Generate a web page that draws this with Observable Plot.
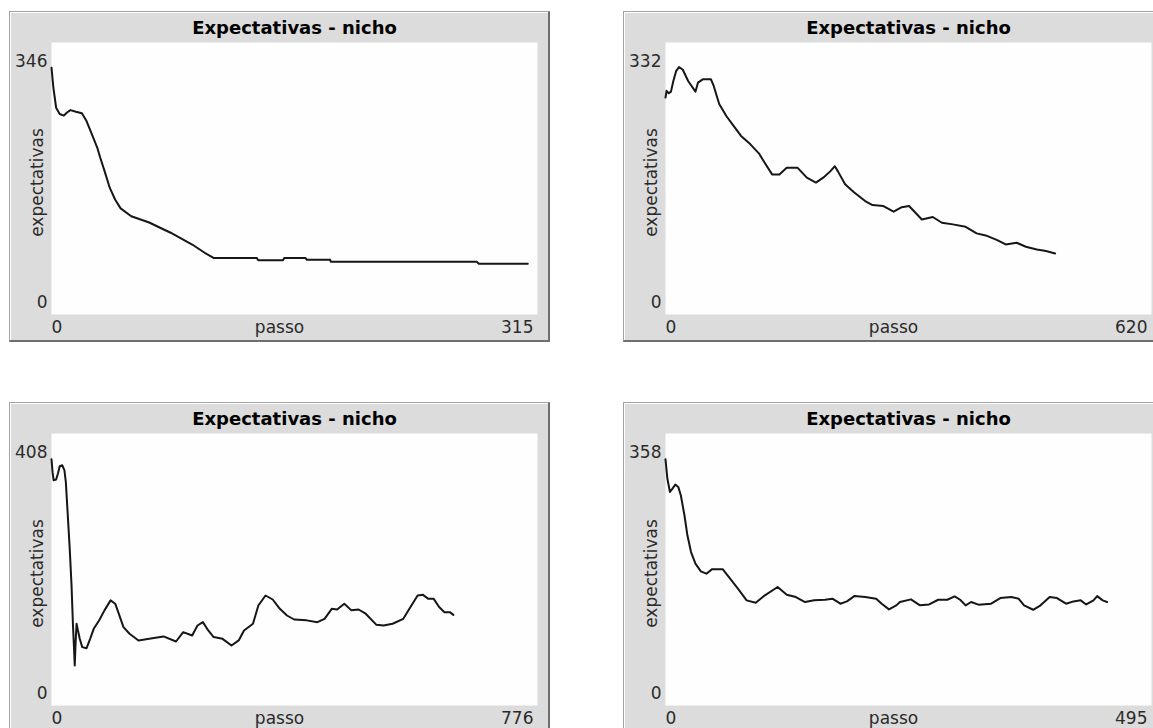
<!DOCTYPE html>
<html><head><meta charset="utf-8">
<script src="https://cdn.jsdelivr.net/npm/d3@7"></script>
<script src="https://cdn.jsdelivr.net/npm/@observablehq/plot@0.6"></script>
<style>
html,body{margin:0;padding:0;overflow:hidden;background:#fff;}
#root{position:relative;width:1153px;height:728px;overflow:hidden;background:#fff;}
.panel{position:absolute;width:541px;height:331px;background:#dcdcdc;}
.panel svg{position:absolute;left:0;top:0;}
.bord{position:absolute;left:0;top:0;width:541px;height:331px;box-sizing:border-box;border-top:1px solid #a3a3a3;border-left:1px solid #a3a3a3;border-right:2px solid #6f6f6f;border-bottom:2px solid #6f6f6f;box-shadow:inset 1px 1px 0 #ffffff;}
</style></head><body><div id="root"></div>
<script>
const titles = ["Expectativas - nicho","Expectativas - nicho","Expectativas - nicho","Expectativas - nicho"];
const xLabel = "passo";
const yLabel = "expectativas";
const xMax = [315, 620, 776, 495];
const yMax = [346, 332, 408, 358];

const passo1 = [0,1.2,3,5.3,8,10,12.3,15.8,19.7,22.7,26.2,29.7,31.5,34.3,37.8,41.3,44.8,51.7,63.3,77.2,91.2,99.3,105,133,134,150,151,164.5,165.6,180.6,181,275.6,277,308.7];
const expect1 = [314,289,263,255,253,257,260,258,256,246,229,212,200,183,161,146,135,125,117,104,89,78.5,72,72,69,69,72,72,69.6,69.6,67,67,64.5,64.5];

const passo2 = [0,1.4,4.2,7,10,13.5,17.2,21.9,28.9,38.2,41.4,47.5,58,61.5,68.5,77.8,87.1,96.4,108,119.7,126.7,136,145.3,154.6,168.6,180.3,191.9,201.2,210.5,216,219.8,229.1,240.8,254.7,264.1,278,291,301.4,310.7,317.7,327,341,352.6,366.6,382.9,396.9,408.5,422.5,434,448,459.7,473.7,485.4,497];
const expect2 = [264.8,273,270,272,285,297,302,299,285,272,283,287,287,279,257,242,230,218,208,196,185,171,171,179,179,167,161,167,175,181,175,159,149,138.5,133.6,132.4,125.5,131,132.4,125.5,116,119,112,110,107,99,96.5,91,85.5,87.6,82.7,79.4,77.4,74.5];

const passo3 = [0,1.7,3.4,7.4,10.3,13.1,17.1,20.6,22.9,25.7,29.1,32,34.3,36,37.1,38.3,40,41.7,45.1,49.1,56,61.7,67.4,76,84.6,94.3,101.7,107.4,114.9,124.6,138.9,156,178.8,198.8,210.3,224.6,233.1,241.7,250.3,258.9,273.1,287.4,298.9,307.4,321.7,330.3,341.7,353.2,364.6,376,387.5,407.5,424.6,436,447.5,456,467.5,478.9,490.3,501.7,518.9,530.3,544.6,561.7,573.2,584.6,593.2,601.7,610.3,618.9,627.4,636,641.7];
const expect3 = [369.5,350,338,339,348,359,360.4,353,335,290,235,180,120,85,60,90,122.6,115,100,87.6,86,100,115,127.6,142.7,157.7,152.7,137.7,117.6,107.6,97.6,100,103.6,96,110,105,120,125,112.6,102.6,100,90,97.6,112.6,122.6,150,165,159,145,135,129,127.7,125,130,145,144,152.7,142.7,144,137.7,121,120,122.6,130,147.7,165,166,160,160,147.7,140,140,136];

const passo4 = [0,1.9,4.5,7.1,10,13,15.6,19.3,22.3,26,30.5,36,41.7,47.2,58.4,65.8,75.1,82.6,91.9,101.2,114.2,123.5,132.8,142.1,151.4,162.5,170,178.1,184.8,192.3,203.4,214.6,220.2,227.6,235.1,238.8,250,259.2,268.5,277.8,287.1,294.5,300.1,305.7,311.3,318.7,331.7,341,352.2,359.6,365.2,374.5,382,391.3,398.7,408,415.5,422.9,428.5,435.9,439.7,445.3,449.7];
const expect4 = [324,298.7,281,285.5,290.8,287.7,276.7,250.4,224,202,186.7,176.6,173.5,179.2,179.2,167,151.5,138.4,135.3,145,156,145.8,142.8,136.2,138.4,139.2,140.6,134,137,144,142.8,140.6,134,126.5,131.8,136.2,139.7,131.8,133,139.2,139.2,143.6,139.2,131.8,136.2,132.7,134,141.4,142.8,140.6,131.8,126,131.8,142.8,141.4,134,137,138.4,133,138.4,144,138.4,136.2];

const passos = [passo1, passo2, passo3, passo4];
const expects = [expect1, expect2, expect3, expect4];
const positions = [[9,11],[623,11],[9,402],[623,402]];

const font = "'DejaVu Sans', Verdana, sans-serif";
const root = document.getElementById("root");

for (let i = 0; i < 4; i++) {
  const data = passos[i].map((x, j) => ({passo: x, expectativas: expects[i][j]}));
  const svg = Plot.plot({
    width: 541, height: 331,
    marginLeft: 42, marginRight: 13, marginTop: 31, marginBottom: 28,
    style: {background: "transparent", fontFamily: font, fontSize: "17px", color: "#2b2b2b", overflow: "visible"},
    x: {domain: [0, xMax[i]], axis: null},
    y: {domain: [0, yMax[i]], axis: null},
    marks: [
      Plot.frame({fill: "#fefefe", stroke: null}),
      Plot.axisY({ticks: [yMax[i]], tickSize: 0, tickPadding: 4, dy: 19, label: null, tickFormat: d => String(d)}),
      Plot.axisY({ticks: [0], tickSize: 0, tickPadding: 4, dy: -12, label: null, tickFormat: d => String(d)}),
      Plot.axisX({ticks: [0], tickSize: 0, tickPadding: 6, textAnchor: "start", label: null, tickFormat: d => String(d)}),
      Plot.axisX({ticks: [xMax[i]], tickSize: 0, tickPadding: 6, textAnchor: "end", dx: -4, label: null, tickFormat: d => String(d)}),
      Plot.text([xLabel], {frameAnchor: "bottom", text: d => d, dx: -15, dy: 13, lineAnchor: "middle", fill: "#2b2b2b"}),
      Plot.text([yLabel], {frameAnchor: "left", text: d => d, rotate: -90, textAnchor: "middle", dx: -13.5, dy: 4, lineAnchor: "middle", fill: "#2b2b2b"}),
      Plot.text([titles[i]], {frameAnchor: "top", text: d => d, dy: -14.5, lineAnchor: "middle", fontWeight: "bold", fontSize: 18, fill: "#000"}),
      Plot.line(data, {x: "passo", y: "expectativas", stroke: "#161616", strokeWidth: 2})
    ]
  });
  const div = document.createElement("div");
  div.className = "panel";
  div.style.left = positions[i][0] + "px";
  div.style.top = positions[i][1] + "px";
  div.appendChild(svg);
  const b = document.createElement("div");
  b.className = "bord";
  div.appendChild(b);
  root.appendChild(div);
}
</script></body></html>
